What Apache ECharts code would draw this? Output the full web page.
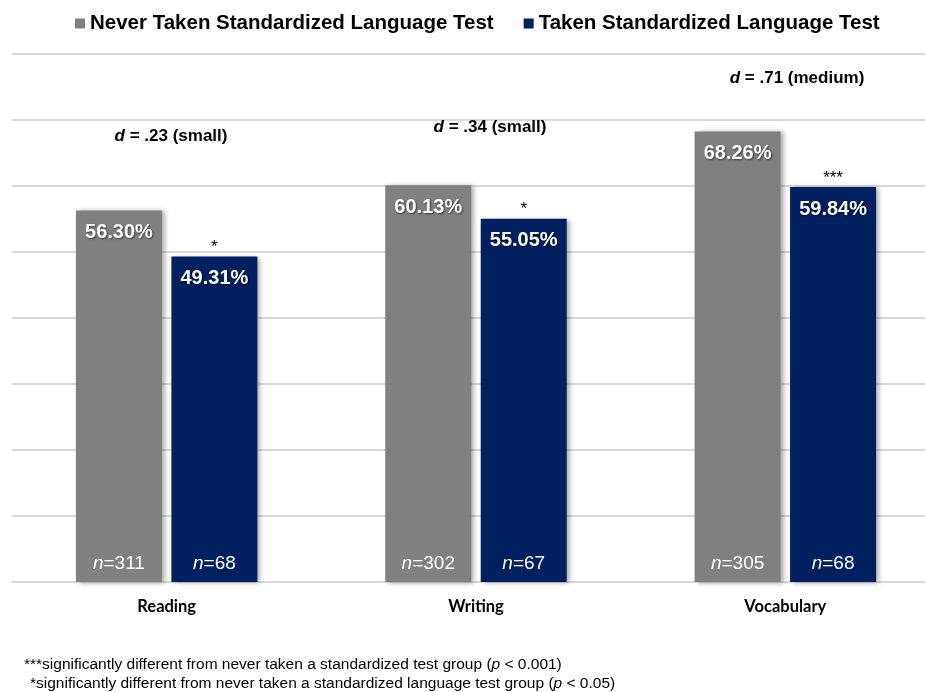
<!DOCTYPE html>
<html lang="en">
<head>
    <meta charset="UTF-8">
    <title>Language test scores</title>
    <script src="https://cdn.jsdelivr.net/npm/echarts@6/dist/echarts.min.js"></script>
    <style>
        html, body { margin: 0; padding: 0; background: #fff; overflow: hidden; }
    </style>
</head>
<body>
<!-- the plot runs a little past the right edge of the window, as in the original -->
<div id="main" style="width: 940px;height:692px;"></div>
</body>
<script>
    var categories = ['Reading', 'Writing', 'Vocabulary'];
    var neverPct = [56.30, 60.13, 68.26];
    var takenPct = [49.31, 55.05, 59.84];
    var neverN = [311, 302, 305];
    var takenN = [68, 67, 68];
    var takenSig = ['*', '*', '***'];
    var effectD = ['.23', '.34', '.71'];
    var effectSize = ['small', 'small', 'medium'];

    var FONT = '"Liberation Sans", Arial, sans-serif';
    var GRAY = '#808080';
    var NAVY = '#002060';

    var barShadow = {
        shadowColor: 'rgba(0, 0, 0, 0.35)',
        shadowBlur: 5,
        shadowOffsetX: 3,
        shadowOffsetY: 1
    };

    var valueLabel = {
        show: true,
        position: 'insideTop',
        distance: 12,
        color: '#fff',
        fontFamily: FONT,
        fontWeight: 'bold',
        fontSize: 20,
        textShadowColor: 'rgba(0, 0, 0, 0.55)',
        textShadowBlur: 2,
        textShadowOffsetX: 1,
        textShadowOffsetY: 1,
        formatter: function (p) { return p.value.toFixed(2) + '%'; }
    };

    var nRich = {
        i: { fontStyle: 'italic', fontSize: 19, color: '#fff', fontFamily: FONT },
        r: { fontSize: 19, color: '#fff', fontFamily: FONT }
    };

    function nMarks(counts) {
        return counts.map(function (n, i) {
            return {
                coord: [i, 0],
                label: { formatter: '{i|n}{r|=' + n + '}' }
            };
        });
    }

    var starMarks = takenSig.map(function (s, i) {
        return {
            coord: [i, takenPct[i]],
            label: { formatter: s, offset: [0, -9], color: '#000', fontSize: 17, fontFamily: FONT }
        };
    });

    var myChart = echarts.init(document.getElementById('main'));

    // effect size notes sit above each pair, footnotes at the bottom
    var dPos = [[171, 136], [490, 127], [797, 78]];
    var notes = effectD.map(function (d, i) {
        return {
            type: 'text',
            x: dPos[i][0],
            y: dPos[i][1],
            z: 100,
            style: {
                text: '{d|d}{t| = ' + d + ' (' + effectSize[i] + ')}',
                align: 'center',
                verticalAlign: 'middle',
                rich: {
                    d: { fontStyle: 'italic', fontWeight: 'bold', fontSize: 17, fontFamily: FONT, fill: '#000' },
                    t: { fontWeight: 'bold', fontSize: 17, fontFamily: FONT, fill: '#000' }
                }
            }
        };
    });
    var footRich = { p: { fontStyle: 'italic', fontSize: 15.5, fontFamily: FONT } };
    notes.push({
        type: 'text', x: 24, y: 665, z: 100,
        style: {
            text: '***significantly different from never taken a standardized test group ({p|p} < 0.001)',
            font: '15.5px ' + FONT, fill: '#000', verticalAlign: 'middle', rich: footRich
        }
    });
    notes.push({
        type: 'text', x: 30, y: 684, z: 100,
        style: {
            text: '*significantly different from never taken a standardized language test group ({p|p} < 0.05)',
            font: '15.5px ' + FONT, fill: '#000', verticalAlign: 'middle', rich: footRich
        }
    });

    var option = {
        animation: false,
        legend: {
            left: 70,
            top: 8,
            icon: 'rect',
            itemWidth: 10,
            itemHeight: 10,
            itemGap: 30,
            textStyle: { fontFamily: FONT, fontWeight: 'bold', fontSize: 20.5, color: '#000' },
            data: ['Never Taken Standardized Language Test', 'Taken Standardized Language Test']
        },
        grid: { left: 12, right: 0, top: 54, bottom: 110 },
        xAxis: {
            type: 'category',
            data: categories,
            axisTick: { show: false },
            axisLine: { lineStyle: { color: '#d9d9d9', width: 2 } },
            axisLabel: {
                margin: 16,
                fontFamily: 'Lato, "Open Sans", sans-serif',
                fontWeight: 'bold',
                fontSize: 16.5,
                color: '#000'
            }
        },
        yAxis: {
            type: 'value',
            min: 0,
            max: 80,
            interval: 10,
            axisLabel: { show: false },
            axisLine: { show: false },
            splitLine: { lineStyle: { color: '#d9d9d9', width: 2 } }
        },
        series: [
            {
                name: 'Never Taken Standardized Language Test',
                type: 'bar',
                data: neverPct,
                barWidth: 86,
                barGap: '11%',
                itemStyle: Object.assign({ color: GRAY }, barShadow),
                label: valueLabel,
                markPoint: {
                    symbol: 'rect',
                    symbolSize: 0,
                    label: { show: true, offset: [0, -18], rich: nRich },
                    data: nMarks(neverN)
                }
            },
            {
                name: 'Taken Standardized Language Test',
                type: 'bar',
                data: takenPct,
                barWidth: 86,
                barGap: '11%',
                itemStyle: Object.assign({ color: NAVY }, barShadow),
                label: valueLabel,
                markPoint: {
                    symbol: 'rect',
                    symbolSize: 0,
                    label: { show: true, offset: [0, -18], rich: nRich },
                    data: nMarks(takenN).concat(starMarks)
                }
            }
        ],
        graphic: notes
    };
    myChart.setOption(option);
</script>
</html>
